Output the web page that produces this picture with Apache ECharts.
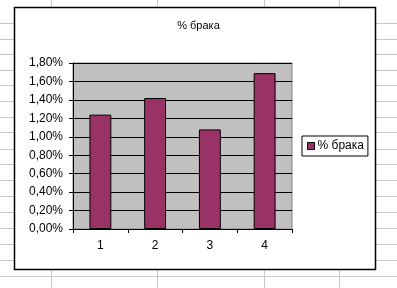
<!DOCTYPE html>
<html>
<head>
<meta charset="utf-8">
<script src="https://cdn.jsdelivr.net/npm/echarts@6/dist/echarts.min.js"></script>
<style>
html,body{margin:0;padding:0;background:#fff;}
#c{width:397px;height:288px;}
</style>
</head>
<body>
<div id="c"></div>
<script>
const categories = ['1', '2', '3', '4'];
const defectRate = [1.24, 1.42, 1.08, 1.69];
const seriesName = '% брака';
const titleText = '% брака';

const fmt = v => v.toFixed(2).replace('.', ',') + '%';
const FONT = '"Liberation Sans", Arial, sans-serif';

// decorative spreadsheet grid behind the chart
const deco = [];
const rowYs = [23, 39, 54, 70, 85, 101, 117, 132, 149, 164, 180, 196, 212, 228, 244, 260, 276];
rowYs.forEach(y => deco.push({type:'line', z:-20, shape:{x1:0,y1:y+0.5,x2:397,y2:y+0.5}, style:{stroke:'#c8c8c8',lineWidth:1}}));
[51, 157, 264, 339].forEach(x => deco.push({type:'line', z:-20, shape:{x1:x+0.5,y1:0,x2:x+0.5,y2:288}, style:{stroke:'#c8c8c8',lineWidth:1}}));
deco.push({type:'rect', z:-10, shape:{x:14.5,y:7.5,width:361,height:262}, style:{fill:'#fff',stroke:'#000',lineWidth:1.5}});

const chart = echarts.init(document.getElementById('c'), null, {renderer:'canvas'});
chart.setOption({
  animation: false,
  backgroundColor: '#fff',
  graphic: deco,
  title: {
    text: titleText, left: 'center', top: 20, padding: 0,
    textStyle: {fontFamily: FONT, fontSize: 11, fontWeight: 'normal', color: '#000'}
  },
  legend: {
    left: 302, top: 136, orient: 'vertical',
    padding: [4, 4, 4, 5],
    borderColor: '#000', borderWidth: 1,
    itemWidth: 7, itemHeight: 7, icon: 'rect',
    itemStyle: {borderColor: '#000', borderWidth: 1},
    textStyle: {fontFamily: FONT, fontSize: 12, color: '#000', padding: [0,0,0,-2]},
    data: [seriesName]
  },
  grid: {
    left: 73, top: 63, right: 105, bottom: 59,
    show: true, backgroundColor: '#c0c0c0', borderColor: '#808080', borderWidth: 1
  },
  xAxis: {
    type: 'category', data: categories, boundaryGap: true,
    axisLine: {lineStyle: {color: '#000'}},
    axisTick: {show: true, length: 4, alignWithLabel: false, lineStyle: {color: '#000'}},
    axisLabel: {color: '#000', fontFamily: FONT, fontSize: 12, margin: 11},
    splitLine: {show: false}
  },
  yAxis: {
    type: 'value', min: 0, max: 1.8, interval: 0.2,
    axisLine: {show: true, lineStyle: {color: '#000'}},
    axisTick: {show: true, length: 4, lineStyle: {color: '#000'}},
    axisLabel: {color: '#000', fontFamily: FONT, fontSize: 12, margin: 10, formatter: fmt},
    splitLine: {show: true, lineStyle: {color: '#000', width: 1}}
  },
  series: [{
    name: seriesName, type: 'bar', data: defectRate,
    barWidth: '40%',
    itemStyle: {color: '#993366', borderColor: '#000', borderWidth: 1}
  }]
});
</script>
</body>
</html>
